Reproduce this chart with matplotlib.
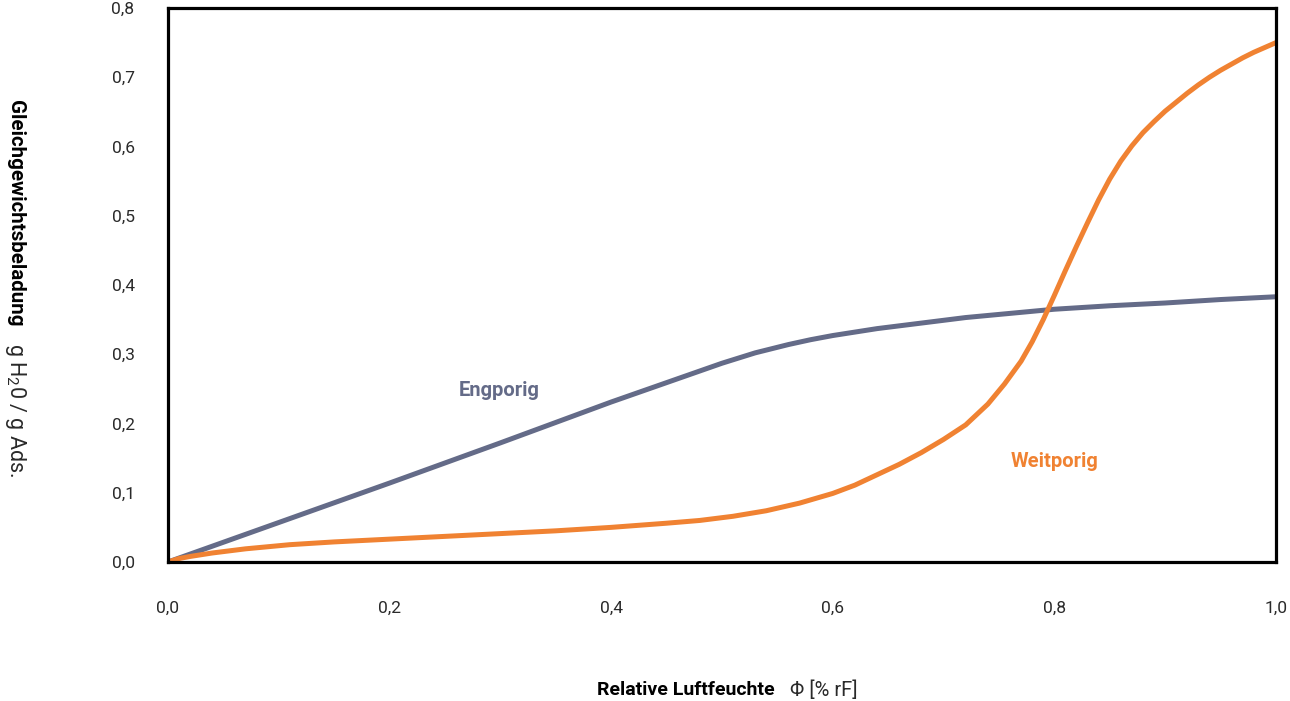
"""
Sorptionsisothermen - engporiges vs. weitporiges Silicagel
"""
import matplotlib
matplotlib.use('Agg')
import matplotlib.pyplot as plt

# ── Daten ──
phi_eng = [0.0, 0.1, 0.2, 0.3, 0.4, 0.5, 0.53, 0.56, 0.58, 0.60, 0.62,
           0.64, 0.66, 0.68, 0.70, 0.72, 0.74, 0.76, 0.78, 0.80, 0.85,
           0.90, 0.95, 1.00]
load_eng = [0.0, 0.057, 0.114, 0.172, 0.231, 0.287, 0.302, 0.314, 0.321,
            0.327, 0.332, 0.337, 0.341, 0.345, 0.349, 0.353, 0.356, 0.359,
            0.362, 0.365, 0.370, 0.374, 0.379, 0.383]

phi_weit = [0.0, 0.01, 0.02, 0.04, 0.07, 0.11, 0.15, 0.20, 0.25, 0.30,
            0.35, 0.40, 0.45, 0.48, 0.51, 0.54, 0.57, 0.60, 0.62, 0.64,
            0.66, 0.68, 0.70, 0.72, 0.74, 0.755, 0.77, 0.78, 0.79, 0.80,
            0.81, 0.82, 0.83, 0.84, 0.85, 0.86, 0.87, 0.88, 0.89, 0.90,
            0.91, 0.92, 0.93, 0.94, 0.95, 0.96, 0.97, 0.98, 0.99, 1.00]
load_weit = [0.0, 0.005, 0.008, 0.013, 0.019, 0.025, 0.029, 0.033, 0.037,
             0.041, 0.045, 0.050, 0.056, 0.060, 0.066, 0.074, 0.085, 0.099,
             0.111, 0.126, 0.141, 0.158, 0.177, 0.198, 0.228, 0.257, 0.290,
             0.318, 0.350, 0.385, 0.421, 0.456, 0.490, 0.523, 0.553, 0.579,
             0.601, 0.620, 0.636, 0.651, 0.664, 0.677, 0.689, 0.700, 0.710,
             0.719, 0.728, 0.736, 0.743, 0.750]

x_ticks = [0.0, 0.2, 0.4, 0.6, 0.8, 1.0]
y_ticks = [0.0, 0.1, 0.2, 0.3, 0.4, 0.5, 0.6, 0.7, 0.8]

C_ENG = '#646b88'
C_WEIT = '#f08232'

plt.rcParams['font.family'] = ['Roboto', 'DejaVu Sans']
plt.rcParams['mathtext.fontset'] = 'custom'
plt.rcParams['mathtext.rm'] = 'Roboto'

# ── Grafik ──
fig = plt.figure(figsize=(12.9, 7.01), dpi=100)
ax = fig.add_axes([0.1302, 0.1983, 0.8589, 0.7903])

ax.plot(phi_eng, load_eng, color=C_ENG, lw=3.6, solid_capstyle='round',
        solid_joinstyle='round')
ax.plot(phi_weit, load_weit, color=C_WEIT, lw=3.6, solid_capstyle='round',
        solid_joinstyle='round')

ax.set_xlim(0, 1.0)
ax.set_ylim(0, 0.8)
ax.set_xticks(x_ticks)
ax.set_yticks(y_ticks)
ax.set_xticklabels([f'{v:.1f}'.replace('.', ',') for v in x_ticks],
                   fontsize=12.5, color='#2a2a2a')
ax.set_yticklabels([f'{v:.1f}'.replace('.', ',') for v in y_ticks],
                   fontsize=12.5, color='#2a2a2a')
ax.tick_params(length=0)
ax.tick_params(axis='x', pad=28)
ax.tick_params(axis='y', pad=24)

for sp in ax.spines.values():
    sp.set_linewidth(2.3)
    sp.set_color('black')

ax.text(0.299, 0.247, 'Engporig', color=C_ENG, fontsize=14.5,
        fontweight='bold', ha='center', va='center')
ax.text(0.80, 0.145, 'Weitporig', color=C_WEIT, fontsize=14.5,
        fontweight='bold', ha='center', va='center')

# ── Achsentitel ──
fig.text(775 / 1290, 1 - 690 / 701, 'Relative Luftfeuchte', fontsize=14,
         fontweight='bold', ha='right', va='center')
fig.text(790 / 1290, 1 - 690 / 701, 'Φ [% rF]', fontsize=14.5,
         color='#2a2a2a', ha='left', va='center')

fig.text(15 / 1290, 1 - 100 / 701, 'Gleichgewichtsbeladung', fontsize=14.8,
         fontweight='bold', rotation=270, ha='center', va='top')
fig.text(15 / 1290, 1 - 343 / 701, 'g H$_2$0 / g Ads.', fontsize=15.5,
         color='#2a2a2a', rotation=270, ha='center', va='top')

fig.savefig('out.png', dpi=100)
